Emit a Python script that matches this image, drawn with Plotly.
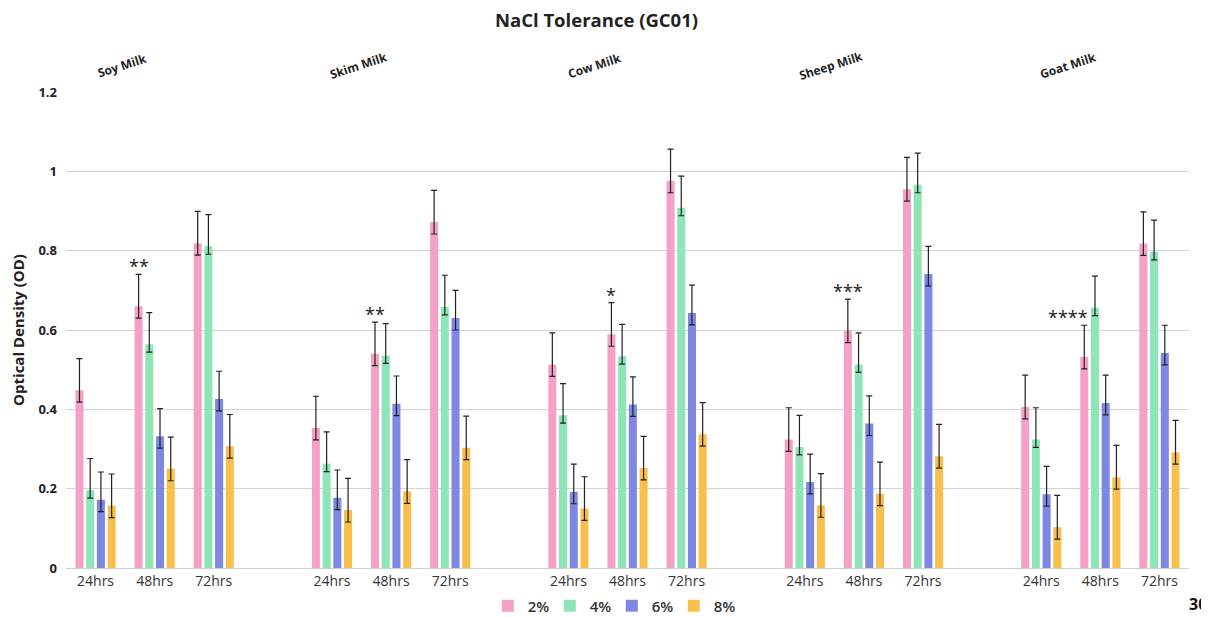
import plotly.graph_objects as go

milks = ["Soy Milk", "Skim Milk", "Cow Milk", "Sheep Milk", "Goat Milk"]
times = ["24hrs", "48hrs", "72hrs"]
series_names = ["2%", "4%", "6%", "8%"]

# values per series, ordered milk by milk, time 24/48/72
od_2 = [0.448, 0.660, 0.819, 0.353, 0.540, 0.872, 0.513, 0.589, 0.976,
        0.324, 0.598, 0.955, 0.406, 0.532, 0.818]
od_4 = [0.196, 0.564, 0.811, 0.263, 0.536, 0.658, 0.385, 0.534, 0.908,
        0.305, 0.513, 0.966, 0.324, 0.656, 0.797]
od_6 = [0.172, 0.332, 0.426, 0.177, 0.414, 0.630, 0.192, 0.412, 0.643,
        0.217, 0.364, 0.741, 0.186, 0.416, 0.542]
od_8 = [0.157, 0.250, 0.307, 0.146, 0.193, 0.303, 0.150, 0.252, 0.337,
        0.158, 0.187, 0.282, 0.103, 0.229, 0.292]

err_plus = [0.08, 0.08, 0.07, 0.08]
err_minus = [0.03, 0.02, 0.03, 0.03]

significance = ["**", "**", "*", "***", "****"]  # at 48hrs of each milk

colors = ["#F5A1C5", "#8DE5B8", "#7E87E3", "#F9BF4B"]

FONT = "Open Sans"
slots_per_milk = len(times) + 1
bargap = 0.275

x_pos = [m * slots_per_milk + t for m in range(len(milks)) for t in range(len(times))]
tick_text = [t for m in milks for t in times]

fig = go.Figure()
for name, vals, col, ep, em in zip(series_names, [od_2, od_4, od_6, od_8], colors, err_plus, err_minus):
    fig.add_trace(go.Bar(
        x=x_pos, y=vals, name=name,
        marker=dict(color=col, line=dict(width=0)),
        error_y=dict(type="constant", symmetric=False, value=ep, valueminus=em,
                     color="#222222", thickness=1.2, width=3),
    ))

annotations = []
# milk group labels
for m, milk in enumerate(milks):
    annotations.append(dict(
        x=m * slots_per_milk + 0.45, y=1.055, xref="x", yref="paper",
        xanchor="center", yanchor="middle",
        text=milk, showarrow=False, textangle=-18,
        font=dict(family=FONT, size=12, color="#222222", weight="bold"),
    ))

# significance stars above the 2% bar at 48hrs
pink_offset = -1.5 * (1 - bargap) / len(series_names)
for m, s in enumerate(significance):
    idx = m * len(times) + 1
    xa = "center" if len(s) < 4 else "right"
    annotations.append(dict(
        x=x_pos[idx] + pink_offset, y=od_2[idx] + err_plus[0], xref="x", yref="y",
        text=s, showarrow=False, xanchor=xa, yanchor="bottom",
        xshift=0 if xa == "center" else 6, yshift=-6,
        font=dict(family=FONT, size=18, color="#222222"),
    ))

# slide number at the bottom right
annotations.append(dict(
    x=1.0, y=0, xref="paper", yref="paper", xanchor="right", yanchor="bottom",
    text="30", showarrow=False, xshift=20, yshift=-49,
    font=dict(family=FONT, size=16, color="#111111", weight="bold"),
))

# the page adds an 8px body margin, so the figure is 8px smaller than the window
fig.update_layout(
    width=1201, height=609,
    margin=dict(l=58, r=20, t=84, b=49, autoexpand=False),
    paper_bgcolor="white", plot_bgcolor="white",
    barmode="group", bargap=bargap, bargroupgap=0.25,
    title=dict(text="NaCl Tolerance (GC01)", x=0.49, xanchor="center",
               y=0.979, yanchor="middle",
               font=dict(family=FONT, size=18.5, color="#222222", weight="bold")),
    legend=dict(orientation="h", x=0.486, xanchor="center", y=-0.08, yanchor="middle",
                font=dict(family=FONT, size=15, color="#333333", weight=600),
                traceorder="normal", entrywidth=17, entrywidthmode="pixels",
                itemwidth=30),
    annotations=annotations,
    xaxis=dict(range=[-0.5, len(milks) * slots_per_milk - 1.5],
               tickmode="array", tickvals=x_pos, ticktext=tick_text,
               showgrid=False, zeroline=False, showline=True,
               linecolor="#d0d0d0", linewidth=1, ticks="",
               tickfont=dict(family=FONT, size=14, color="#333333")),
    yaxis=dict(range=[0, 1.2], dtick=0.2, tick0=0,
               showgrid=True, gridcolor="#d4d4d4", gridwidth=1,
               zeroline=True, zerolinecolor="#c8c8c8", zerolinewidth=1,
               showline=False, ticks="", ticklabelstandoff=8,
               tickfont=dict(family=FONT, size=13, color="#222222", weight="bold"),
               title=dict(text="Optical Density (OD)", standoff=11,
                          font=dict(family=FONT, size=15, color="#222222", weight="bold"))),
)

fig.write_html("out.html")
